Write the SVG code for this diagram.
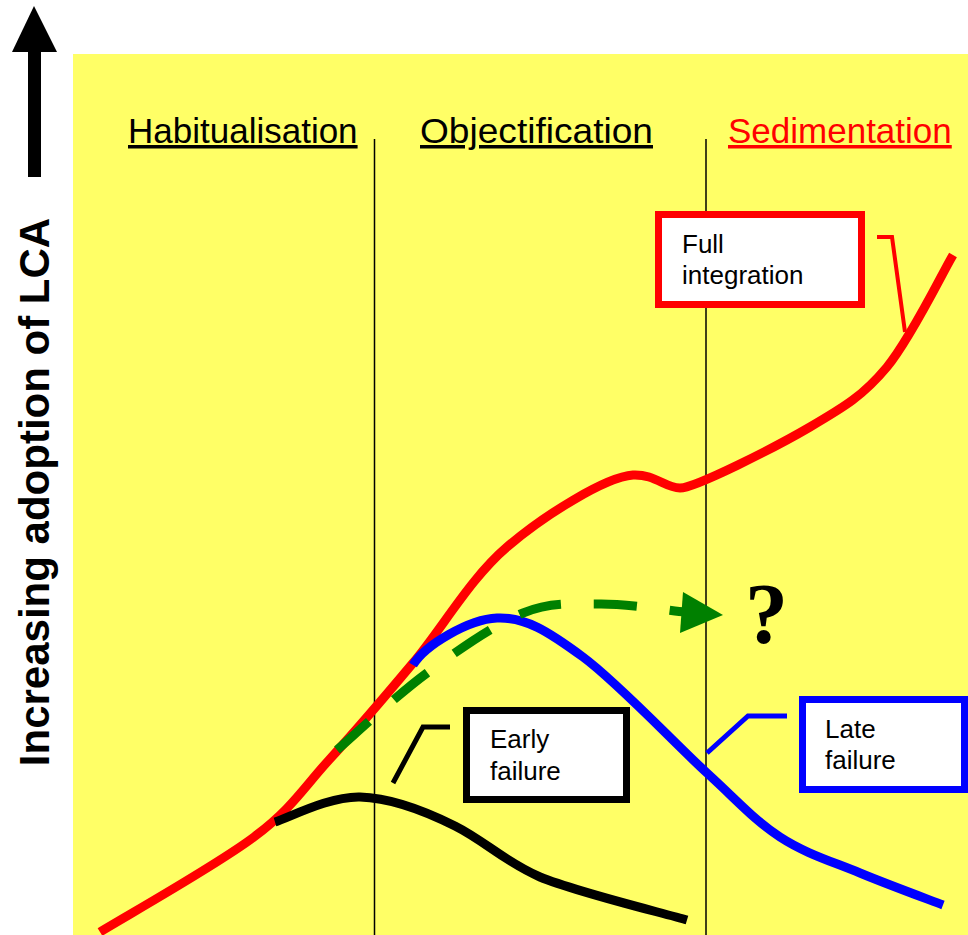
<svg xmlns="http://www.w3.org/2000/svg" width="968" height="935" viewBox="0 0 968 935">
<style>
.lbl{font-family:"Liberation Sans",Arial,sans-serif;font-size:26px;fill:#000}
.hdr{font-family:"Liberation Sans",Arial,sans-serif;font-size:35px;text-decoration:underline}
.curve{fill:none;stroke-width:9;stroke-linecap:butt;stroke-linejoin:round}
.lead{fill:none;stroke-linejoin:miter}
.box{fill:#fff;stroke-width:7}
.phase{stroke:#000;stroke-width:1.5}
</style>
<rect id="background" x="73" y="54" width="895" height="881" fill="#FFFF66"/>
<g id="axis">
<rect x="28" y="50" width="13" height="127" fill="#000"/>
<polygon points="34,6 12,52 57,52" fill="#000"/>
<text transform="translate(49,492) rotate(-90)" text-anchor="middle" style="font-family:'Liberation Sans',Arial,sans-serif;font-size:42px;font-weight:bold" fill="#000">Increasing adoption of LCA</text>
</g>
<g id="phases">
<line class="phase" x1="374.5" y1="139" x2="374.5" y2="935"/>
<line class="phase" x1="706" y1="139" x2="706" y2="935"/>
<text class="hdr" x="128" y="143" fill="#000">Habitualisation</text>
<text class="hdr" x="420" y="143" fill="#000" textLength="233" lengthAdjust="spacingAndGlyphs">Objectification</text>
<text class="hdr" x="728" y="143" fill="#FF0000">Sedimentation</text>
</g>
<g id="connectors">
<path id="red-curve" class="curve" stroke="#FF0000" d="M100,932 C125.7,916.2 215.8,865.7 254,837 C292.2,808.3 302.5,789 329,760 C355.5,731 383.3,698.5 413,663 C442.7,627.5 470.3,578.3 507,547 C543.7,515.7 605,477 633,475 C655,474 665,488 680,488 C695,488 775.5,447.2 810,427 C844.5,406.8 863.2,395.7 887,367 C910.8,338.3 942,273.7 953,255"/>
<path id="blue-curve" class="curve" stroke="#0000FF" d="M413,665 C425,645 468.7,619.3 497,618 C525.3,616.7 548,631.2 583,657 C618,682.8 674.2,743 707,773 C739.8,803 754.5,820.3 780,837 C805.5,853.7 832.8,861.7 860,873 C887.2,884.3 929.2,899.7 943,905"/>
<path id="black-curve" class="curve" stroke="#000" stroke-width="10" d="M275,822 C289.2,817.7 329.2,796.2 360,797 C390.8,797.8 425,811 455,826 C485,841 505,862 540,877 C577.8,892.5 662.5,912.8 687,920"/>
<g id="green-arrow">
<path class="curve" stroke="#008000" stroke-width="10" stroke-dasharray="43 33" d="M337,750 C352,737.2 396,695.8 427,673 C458,650.2 494.2,624.5 523,613 C551.8,601.5 573,604.2 600,604 C627,603.8 670.8,610.7 685,612"/>
<polygon points="723,615 683,592 680,633" fill="#008000"/>
</g>
<polyline class="lead" points="877,237 892,237 905,332" stroke="#FF0000" stroke-width="4"/>
<polyline class="lead" points="393,783 423,727 450,727" stroke="#000" stroke-width="5"/>
<polyline class="lead" points="707,753 748,716 787,716" stroke="#0000FF" stroke-width="5"/>
</g>
<g id="full-integration">
<rect class="box" x="658.5" y="214.5" width="203" height="90" stroke="#FF0000"/>
<text class="lbl" x="682" y="253">Full</text>
<text class="lbl" x="682" y="284">integration</text>
</g>
<g id="early-failure">
<rect class="box" x="466.5" y="710.5" width="160" height="89" stroke="#000"/>
<text class="lbl" x="490" y="748">Early</text>
<text class="lbl" x="490" y="780">failure</text>
</g>
<g id="late-failure">
<rect class="box" x="802.5" y="699.5" width="162" height="90" stroke="#0000FF"/>
<text class="lbl" x="825" y="738">Late</text>
<text class="lbl" x="825" y="769">failure</text>
</g>
<text id="question" x="745" y="643" style="font-family:'Liberation Serif','Times New Roman',serif;font-size:86px;font-weight:bold" fill="#000">?</text>
</svg>
